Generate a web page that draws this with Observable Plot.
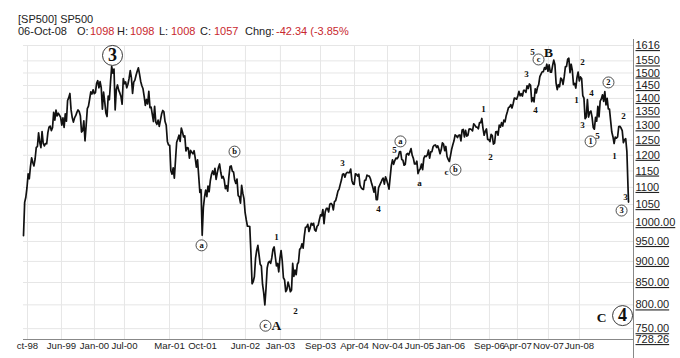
<!DOCTYPE html>
<html><head><meta charset="utf-8">
<script src="https://cdn.jsdelivr.net/npm/d3@7"></script>
<script src="https://cdn.jsdelivr.net/npm/@observablehq/plot@0.6"></script>
<style>
body{margin:0;background:#fff;}
#wrap{position:relative;width:680px;height:358px;overflow:hidden;font-family:Arial,"Liberation Sans",sans-serif;}
#hdr{position:absolute;left:0;top:0;width:680px;height:40px;font-size:11px;color:#222;}
#hdr span{position:absolute;white-space:pre;line-height:12px;}
#hdr .r{color:#c8282e;}
[aria-label="y-axis tick label"] text{text-decoration:underline;}
</style></head><body><div id="wrap"></div>
<script>
// weekly closes (Fridays) from 1998-10-09 to 2008-10-03
const weeklyClose = [
// 1998 Oct-Dec + Jan 1
965,1056,1071,1099, 1141,1126,1164,1192, 1177,1166,1188,1226, 1229,
// 1999
1275,1243,1225,1280, 1239,1231,1239,1238, 1276,1295,1299,1283, 1293,1348,1320,1356,1335,
1345,1338,1330,1302, 1328,1294,1343,1316, 1392,1403,1419,1357,1329, 1313,1328,1336,1348,
1357,1351,1336,1278, 1283,1317,1248,1301,1362, 1371,1397,1425,1417, 1433,1418,1422,1458,1469,
// 2000
1441,1465,1441,1360, 1424,1387,1346,1333, 1409,1395,1464,1527,1499, 1516,1357,1434,1452,
1432,1421,1407,1378, 1477,1457,1464,1441,1455, 1478,1510,1480,1419, 1463,1471,1491,1507,
1521,1495,1466,1449,1437, 1408,1374,1396,1379, 1427,1365,1367,1341, 1315,1370,1313,1305,1320,
// 2001
1298,1319,1342,1355, 1350,1315,1302,1246, 1234,1233,1151,1140,1160, 1128,1184,1243,1254,
1267,1246,1292,1278, 1261,1265,1214,1225,1224, 1191,1216,1210,1205, 1215,1191,1162,1185,1134,
1085,1093,966,1041, 1071,1092,1073,1104, 1087,1120,1139,1150,1139, 1158,1124,1144,1161,
// 2002
1172,1146,1128,1133, 1122,1096,1105,1089, 1132,1164,1166,1149,1147, 1122,1112,1125,1076,
1073,1054,1106,1083,1067, 1027,1007,990,990, 989,921,847,852, 864,908,928,940,916,
893,889,846,827, 800,836,884,897, 900,895,909,930,936, 912,889,895,875,
// 2003
908,927,901,861,856, 829,834,851,841, 829,833,895,864, 879,868,893,898, 930,933,944,933,964,
987,988,995,976, 985,998,993,998, 980,977,990,993,1008, 1021,1018,1036,997,
1029,1039,1039,1029,1051, 1053,1050,1035,1058, 1061,1074,1089,1095,
// 2004
1109,1122,1140,1141,1131, 1142,1146,1145,1145, 1156,1121,1110,1109, 1141,1140,1134,1140,1107,
1099,1095,1094,1121, 1122,1137,1135,1134, 1126,1112,1101,1086,1102, 1064,1064,1099,1107,
1114,1123,1128,1110, 1132,1122,1109,1095,1130, 1167,1185,1171,1183, 1191,1189,1195,1211,1212,
// 2005
1186,1184,1168,1171, 1203,1206,1201,1211, 1222,1200,1190,1172, 1172,1181,1142,1152,1157,
1172,1154,1190,1198, 1196,1201,1217,1191, 1211,1212,1228,1233,1234, 1226,1231,1220,1205,
1218,1241,1237,1215,1229, 1196,1187,1180,1199, 1220,1235,1248,1268, 1265,1259,1267,1268,1248,
// 2006
1285,1287,1261,1284, 1264,1267,1288,1289, 1287,1282,1307,1302,1295, 1295,1289,1311,1311,
1326,1291,1267,1281, 1289,1253,1252,1245,1270, 1266,1237,1240,1279, 1280,1267,1302,1295,
1311,1299,1320,1314,1336, 1350,1366,1368,1377, 1364,1380,1401,1400, 1397,1409,1427,1410,1418,
// 2007
1409,1431,1431,1423, 1449,1438,1456,1451, 1388,1402,1387,1437,1421, 1443,1453,1485,1495,
1505,1505,1522,1515, 1536,1507,1533,1503,1503, 1530,1553,1534,1459, 1434,1453,1445,1479,1474,
1454,1484,1525,1527, 1557,1561,1501,1536, 1510,1453,1458,1440,1481, 1504,1468,1484,1478,
// 2008
1411,1401,1325,1331, 1396,1331,1349,1353,1331, 1294,1288,1330,1316, 1370,1332,1390,1398,
1414,1389,1426,1376,1400, 1361,1360,1318,1278, 1262,1239,1261,1257, 1261,1297,1298,1292,1283,
1242,1252,1255,1213, 1099
];
const firstWeek = "1998-10-09";
const lastDay = "2008-10-06";
const lastClose = 1057;
const axisEnd = "2008-11-05";

// x-axis labels and where they sit on the time axis in the picture
const xTickText = ["ct-98","Jun-99","Jan-00","Jul-00","Mar-01","Oct-01","Jun-02","Jan-03","Sep-03","Apr-04","Nov-04","Jun-05","Jan-06","Sep-06","Apr-07","Nov-07","Jun-08"];
const xTickDate = ["1998-11-02","1999-05-26","1999-12-11","2000-06-09","2001-03-08","2001-09-23","2002-06-09","2003-01-06","2003-09-05","2004-03-28","2004-10-13","2005-04-24","2005-10-28","2006-06-20","2006-12-06","2007-06-11","2007-12-15"];

// y-axis ticks
const yTicks = [1616,1550,1500,1450,1400,1350,1300,1250,1200,1150,1100,1050,1000,950,900,850,800,750,728.26];

// Elliott-wave labels
const waveText  = ["1","2","3","4","5","a","c","1","2","3","4","5","1","2","3","4","5","1","2","3"];
const waveDate  = ["2002-12-13","2003-04-07","2004-01-16","2004-08-20","2004-11-24","2005-04-24","2005-10-04","2006-05-15","2006-06-26","2007-01-30","2007-03-25","2007-03-07","2007-11-27","2008-01-02","2008-01-02","2008-02-26","2008-04-02","2008-07-14","2008-09-06","2008-09-18"];
const waveValue = [960,786,1176,1036,1216,1112,1148,1359,1193,1494,1355,1586,1392,1543,1304,1419,1263,1196,1333,1070];

const circText  = ["a","b","c","a","b","c","1","2","3"];
const circDate  = ["2001-09-17","2002-04-04","2002-10-08","2004-12-30","2005-11-27","2007-04-12","2008-02-20","2008-06-07","2008-08-25"];
const circValue = [940,1212,756,1246,1154,1556,1246,1462,1033];

const bigText  = ["3","4"];
const bigDate  = ["2000-03-29","2008-08-31"];
const bigValue = [1573,777];

const capText  = ["A","B","C"];
const capDate  = ["2002-12-13","2007-06-11","2008-04-26"];
const capValue = [756,1586,773];

const P = s => new Date(s + "T00:00:00Z");
const start = P(firstWeek);
const series = weeklyClose.map((c, i) => ({date: d3.utcDay.offset(start, 7 * i), close: c}));
series.push({date: P(lastDay), close: lastClose});

const tickDates = xTickDate.map(P);
const xLabel = new Map(tickDates.map((d, i) => [+d, xTickText[i]]));
const yLabel = v => v >= 1050 ? String(v) : v.toFixed(2);

const rows = (t, d, v) => t.map((s, i) => ({t: s, date: P(d[i]), v: v[i]}));
const waves = rows(waveText, waveDate, waveValue);
const circs = rows(circText, circDate, circValue);
const bigs = rows(bigText, bigDate, bigValue);
const caps = rows(capText, capDate, capValue);

const serif = "'Liberation Serif','DejaVu Serif','Times New Roman',serif";

const chart = Plot.plot({
  width: 680, height: 358,
  marginLeft: 23, marginRight: 47, marginTop: 45, marginBottom: 19,
  style: {fontFamily: "Arial,'Liberation Sans',sans-serif", background: "white", color: "#222", overflow: "visible"},
  x: {type: "utc", domain: [start, P(axisEnd)]},
  y: {type: "log", domain: [728.26, 1616]},
  marks: [
    Plot.gridY(yTicks, {stroke: "#e6e6e6", strokeOpacity: 1}),
    Plot.gridX(tickDates, {stroke: "#e6e6e6", strokeOpacity: 1}),
    Plot.ruleY([728.26], {stroke: "#888", strokeWidth: 1}),
    Plot.ruleX([P(axisEnd)], {stroke: "#888", strokeWidth: 1, insetTop: -6, insetBottom: -19}),
    Plot.lineY(series, {x: "date", y: "close", stroke: "#111", strokeWidth: 1.7, curve: "linear"}),
    Plot.axisX(tickDates, {tickSize: 0, tickPadding: 3, fontSize: 9.6, tickFormat: d => xLabel.get(+d), fill: "#222"}),
    Plot.axisY(yTicks, {anchor: "right", tickSize: 0, tickPadding: 2, fontSize: 11, tickFormat: yLabel, fill: "#222"}),
    Plot.text(waves, {x: "date", y: "v", text: "t", fontFamily: serif, fontWeight: "bold", fontSize: 9, fill: "#111"}),
    Plot.dot(circs, {x: "date", y: "v", r: 5.5, stroke: "#222", strokeWidth: 0.8, fill: "white"}),
    Plot.text(circs, {x: "date", y: "v", text: "t", fontFamily: serif, fontWeight: "bold", fontSize: 8.5, fill: "#111"}),
    Plot.dot(bigs, {x: "date", y: "v", r: 10, stroke: "#222", strokeWidth: 0.9, fill: "white"}),
    Plot.text(bigs, {x: "date", y: "v", text: "t", fontFamily: serif, fontWeight: "bold", fontSize: 18, fill: "#111"}),
    Plot.text(caps, {x: "date", y: "v", text: "t", fontFamily: serif, fontWeight: "bold", fontSize: 13.5, fill: "#111"})
  ]
});

const wrap = document.getElementById("wrap");
wrap.appendChild(chart);

// header (OHLC readout)
const hdr = document.createElement("div");
hdr.id = "hdr";
const hdrItems = [
  ["[SP500] SP500", 18, 13, ""],
  ["06-Oct-08", 18, 25, ""],
  ["O:", 77, 25, ""], ["1098", 90, 25, "r"],
  ["H:", 117, 25, ""], ["1098", 130, 25, "r"],
  ["L:", 159, 25, ""], ["1008", 171, 25, "r"],
  ["C:", 200, 25, ""], ["1057", 214, 25, "r"],
  ["Chng:", 245, 25, ""], ["-42.34 (-3.85%", 276, 25, "r"]
];
for (const [t, x, y, c] of hdrItems) {
  const s = document.createElement("span");
  s.textContent = t;
  s.style.left = x + "px";
  s.style.top = y + "px";
  if (c) s.className = c;
  hdr.appendChild(s);
}
wrap.appendChild(hdr);
</script></body></html>
